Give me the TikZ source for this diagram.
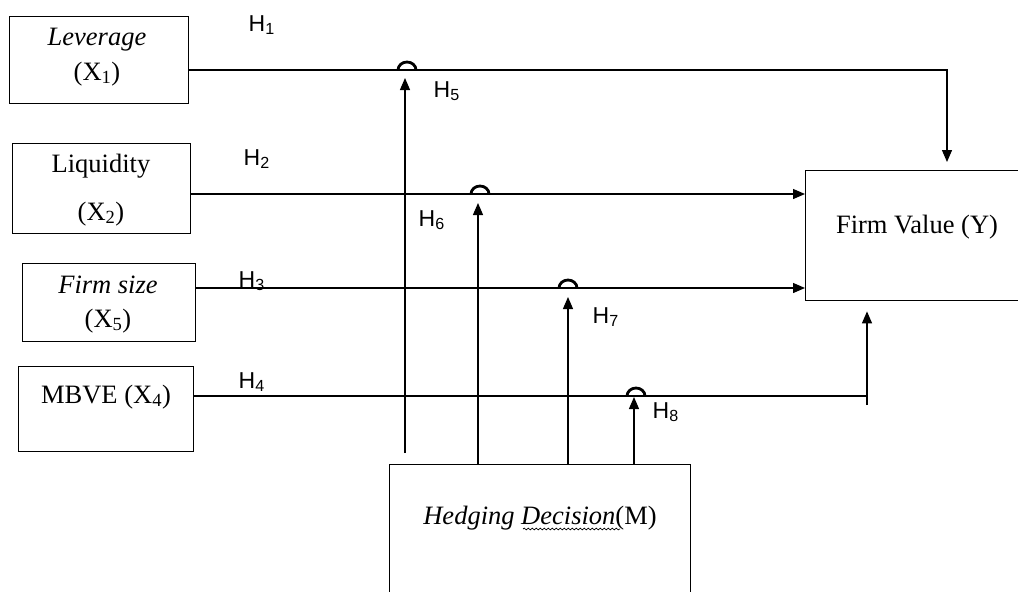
\documentclass[tikz,border=0pt]{standalone}
\usepackage{fontspec}
\setmainfont{Liberation Serif}
\newfontfamily\arialf{Liberation Sans}
\usetikzlibrary{arrows.meta,decorations.pathmorphing}
\begin{document}
\begin{tikzpicture}[x=1pt,y=-1pt,line width=1.3pt,
  box/.style={draw,line width=1.4pt,inner sep=0pt,anchor=north west},
  txt/.style={font=\fontsize{26.5}{30}\selectfont,inner sep=0pt,anchor=base},
  hl/.style={font=\arialf\fontsize{23}{26}\selectfont,inner sep=0pt,anchor=base west},
  arr/.style={-{Triangle[length=12pt,width=10pt]}},
  hop/.style={line width=2.8pt}]
\useasboundingbox (0,0) rectangle (1018,592);
\clip (0,0) rectangle (1018,592);
% boxes
\node[box,minimum width=179pt,minimum height=87pt] (lev) at (9,16) {};
\node[box,minimum width=178pt,minimum height=90pt] (liq) at (12,143) {};
\node[box,minimum width=173pt,minimum height=78pt] (fs) at (22,263) {};
\node[box,minimum width=175pt,minimum height=85pt] (mb) at (18,366) {};
\node[box,minimum width=260pt,minimum height=130pt] (fv) at (805,170) {};
\node[box,minimum width=301pt,minimum height=200pt] (hd) at (389,464) {};
% texts
\node[txt] (levt) at (97,45) {\textit{Leverage}};
\node[txt] (levx) at (97,80) {(X\textsubscript{1})};
\node[txt] (liqt) at (101,172) {Liquidity};
\node[txt] (liqx) at (101,220) {(X\textsubscript{2})};
\node[txt] (fst) at (108,293) {\textit{Firm size}};
\node[txt] (fsx) at (108,327) {(X\textsubscript{5})};
\node[txt] (mbt) at (106,403) {MBVE (X\textsubscript{4})};
\node[txt] (fvt) at (917,233) {Firm Value (Y)};
\node[txt] (hdt) at (540,524) {\textit{Hedging Decision}(M)};
\draw[line width=0.7pt,decorate,decoration={snake,amplitude=0.9pt,segment length=4pt}] (523,529) -- (620,529);
% hypothesis labels
\node[hl] (h1) at (248,31) {H\textsubscript{1}};
\node[hl] (h5) at (433,97) {H\textsubscript{5}};
\node[hl] (h2) at (243,165) {H\textsubscript{2}};
\node[hl] (h6) at (418,226) {H\textsubscript{6}};
\node[hl] (h3) at (238,287) {H\textsubscript{3}};
\node[hl] (h7) at (592,323) {H\textsubscript{7}};
\node[hl] (h4) at (238,388) {H\textsubscript{4}};
\node[hl] (h8) at (652,418) {H\textsubscript{8}};
% reference coordinates
\coordinate (y1) at (0,70);
\coordinate (y2) at (0,194);
\coordinate (y3) at (0,288);
\coordinate (y4) at (0,396);
\coordinate (c1) at (947,70);
\coordinate (m1) at (867,396);
\coordinate (m0) at (867,405);
\coordinate (v1) at (405,0);
\coordinate (v2) at (478,0);
\coordinate (v3) at (568,0);
\coordinate (v4) at (634,0);
% X -> Y
\draw[arr,shorten >=8pt] (lev.east |- y1) -- (c1) -- (fv.north -| c1);
\draw[arr] (liq.east |- y2) -- (fv.west |- y2);
\draw[arr] (fs.east |- y3) -- (fv.west |- y3);
\draw (mb.east |- y4) -- (m1);
\draw[arr,shorten >=10pt] (m0) -- (fv.south -| m0);
% M -> paths
\draw[arr,shorten <=11pt,shorten >=8pt] (hd.north -| v1) -- (y1 -| v1);
\draw[arr,shorten >=9pt] (hd.north -| v2) -- (y2 -| v2);
\draw[arr,shorten >=9pt] (hd.north -| v3) -- (y3 -| v3);
\draw[arr,shorten >=1pt] (hd.north -| v4) -- (y4 -| v4);
% hops
\draw[hop] (398,70) arc[start angle=180,end angle=360,x radius=9,y radius=8];
\draw[hop] (471,194) arc[start angle=180,end angle=360,x radius=9,y radius=8];
\draw[hop] (559,288) arc[start angle=180,end angle=360,x radius=9,y radius=8];
\draw[hop] (627,396) arc[start angle=180,end angle=360,x radius=9,y radius=8];
\end{tikzpicture}
\end{document}
